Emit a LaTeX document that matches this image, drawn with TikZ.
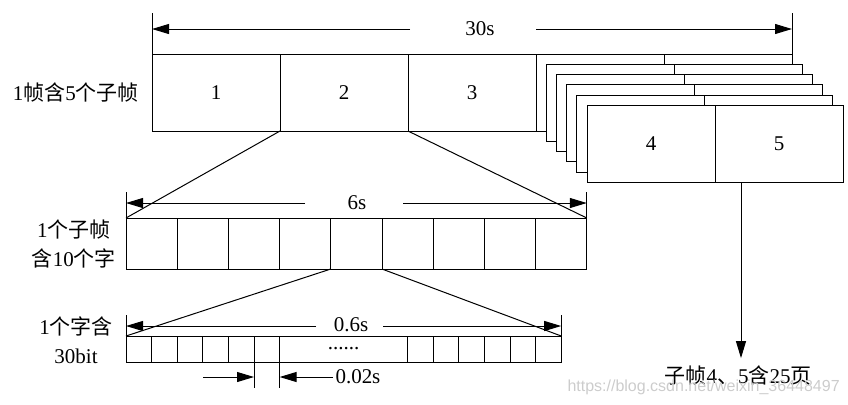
\documentclass[tikz,border=0pt]{standalone}
\usepackage{fontspec}
\setmainfont{Liberation Serif}
\newfontfamily\cjk{Noto Sans CJK SC}
\newfontfamily\wmfont{Liberation Sans}
\usepackage{tikz}
\usetikzlibrary{arrows.meta, positioning}
\tikzset{
  cell/.style={rectangle, draw, fill=white, inner sep=0pt, outer sep=0pt,
               minimum width=64pt, minimum height=38.5pt},
  scell/.style={cell, minimum width=25.6pt, minimum height=25.5pt},
  wcell/.style={cell, minimum width=12.8pt, minimum height=13pt},
  dim/.style={-{Triangle[length=8.5pt,width=5pt]}},
  lbl/.style={align=center, font=\fontsize{10.5}{14.5}\selectfont}
}

\begin{document}
\begin{tikzpicture}[x=0.5pt, y=-0.5pt, line width=0.5pt,
                    font=\fontsize{10.5}{12}\selectfont]
  \useasboundingbox (0,0) rectangle (848,404);

  \node[cell] (f1) at (216,92.5) {1};
  \node[cell, right=0pt of f1] (f2) {2};
  \node[cell, right=0pt of f2] (f3) {3};
  \foreach \k in {0,...,4} {
    \node[cell] (b\k) at ({600+10.2*\k},{92.5+10.3*\k}) {};
    \node[cell, right=0pt of b\k] (c\k) {};
  }
  \node[cell] (l4) at (651,144) {4};
  \node[cell, right=0pt of l4] (l5) {5};

  \node[inner sep=0pt] (t30) at (480,29) {30s};
  \coordinate (g30l) at (410,29);
  \coordinate (g30r) at (536,29);
  \draw[dim] (g30l) -- (g30l -| f1.north west);
  \draw[dim] (g30r) -- (g30r -| c0.north east);
  \draw (f1.north west) -- ++(0,-41);
  \draw (c0.north east) -- ++(0,-41);

  \foreach \i in {1,...,9}
    \node[scell] (s\i) at ({100.4+51.2*\i},243.5) {};
  \draw (f2.south west) -- (s1.north west);
  \draw (f2.south east) -- (s9.north east);

  \node[inner sep=0pt] (t6) at (357,203) {6s};
  \coordinate (g6l) at (305,203);
  \coordinate (g6r) at (403,203);
  \draw[dim] (g6l) -- (g6l -| s1.north west);
  \draw[dim] (g6r) -- (g6r -| s9.north east);
  \draw (s1.north west) -- ++(0,-26);
  \draw (s9.north east) -- ++(0,-26);

  \node[wcell] (w1) at (138.8,349) {};
  \foreach \i [remember=\i as \j (initially 1)] in {2,...,6}
    \node[wcell, right=0pt of w\j] (w\i) {};
  \node[wcell, minimum width=64pt, right=0pt of w6] (gap) {};
  \node[inner sep=0pt] (dots) at (gap.center) {......};
  \node[wcell, right=0pt of gap] (w7) {};
  \foreach \i [remember=\i as \j (initially 7)] in {8,...,12}
    \node[wcell, right=0pt of w\j] (w\i) {};
  \draw (s5.south west) -- (w1.north west);
  \draw (s5.south east) -- (w12.north east);

  \node[inner sep=0pt] (t06) at (351,325) {0.6s};
  \coordinate (g06l) at (316,326);
  \coordinate (g06r) at (383,326);
  \draw[dim] (g06l) -- (g06l -| w1.north west);
  \draw[dim] (g06r) -- (g06r -| w12.north east);
  \draw (w1.north west) -- ++(0,-21);
  \draw (w12.north east) -- ++(0,-21);

  \draw (w5.south east) -- ++(0,26);
  \draw (w6.south east) -- ++(0,26);
  \node[inner sep=1pt, anchor=west] (t002) at (333,377) {0.02s};
  \coordinate (a002) at (203,377);
  \draw[dim] (a002) -- (a002 -| w5.south east);
  \draw[dim] (t002.west) -- (t002.west -| w6.south east);

  \node[lbl, anchor=east] (lf) at (146,92.5) {1{\cjk 帧含}5{\cjk 个子帧}};
  \node[lbl] (ls) at (74,243.5) {1{\cjk 个子帧}\\{\cjk 含}10{\cjk 个字}};
  \node[lbl] (lw) at (76,340.5) {1{\cjk 个字含}\\30bit};

  \node (page) at (738,375) {{\cjk 子帧}4{\cjk 、}5{\cjk 含}25{\cjk 页}};
  \coordinate (px) at (741,0);
  \draw[dim] (px |- l5.south) -- (px |- page.north);

  \node[font=\fontsize{8}{8}\selectfont\wmfont, text=black!20, anchor=west,
        inner sep=0pt] (wm) at (567,387) {https://blog.csdn.net/weixin\_36448497};
\end{tikzpicture}
\end{document}
